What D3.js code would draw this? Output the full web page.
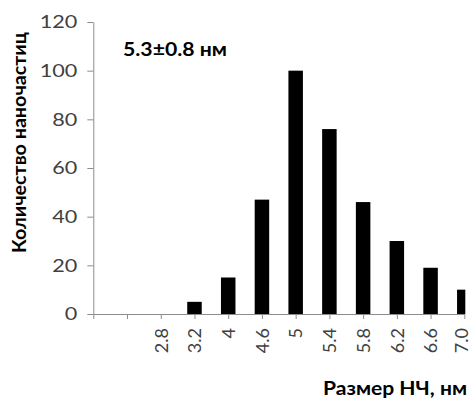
<!DOCTYPE html>
<html><head><meta charset="utf-8">
<script src="https://cdn.jsdelivr.net/npm/d3@7"></script>
<style>
html,body{margin:0;padding:0;background:#fff;}
svg{display:block;font-family:Lato,"Open Sans",sans-serif;}
</style></head>
<body><svg id="c" width="473" height="403"></svg>
<script>
const categories = ["", "", "2.8", "3.2", "4", "4.6", "5", "5.4", "5.8", "6.2", "6.6", "7.0"];
const counts = [0, 0, 0, 5, 15, 47, 100, 76, 46, 30, 19, 10];
const yTicks = [0, 20, 40, 60, 80, 100, 120];
const yTitle = "Количество наночастиц";
const xTitle = "Размер НЧ, нм";
const note = "5.3±0.8 нм";

const svg = d3.select("#c");
const L = 93.3, R = 464.3, T = 22, B = 314;
const x = d3.scalePoint().domain(d3.range(categories.length)).range([L, R]);
const y = d3.scaleLinear().domain([0, 120]).range([B, T]);
const bw = 14.5;

function stretch(sel, k) {
  sel.each(function() {
    const len = this.getComputedTextLength();
    d3.select(this).attr("textLength", len * k).attr("lengthAdjust", "spacingAndGlyphs");
  });
}

svg.append("defs").append("clipPath").attr("id","clip")
  .append("rect").attr("x", L).attr("y", 0).attr("width", R - L + 1).attr("height", B + 1);

svg.append("g").attr("clip-path","url(#clip)")
  .selectAll("rect").data(counts).join("rect")
  .attr("x", (d,i) => x(i) - bw/2)
  .attr("width", bw)
  .attr("y", d => y(d))
  .attr("height", d => B - y(d))
  .attr("fill", "#000");

const yAxis = svg.append("g").attr("transform", `translate(${L},0)`)
  .call(d3.axisLeft(y).tickValues(yTicks).tickSize(6).tickSizeOuter(0).tickPadding(10));
yAxis.select(".domain").attr("stroke", "#8c8c8c");
yAxis.selectAll(".tick line").attr("stroke", "#8c8c8c");
yAxis.selectAll(".tick text").attr("font-size", 18).attr("fill", "#404040").attr("font-family","Lato")
  .call(stretch, 1.2);

const xAxis = svg.append("g").attr("transform", `translate(0,${B})`)
  .call(d3.axisBottom(x).tickFormat(i => categories[i]).tickSize(5).tickSizeOuter(0));
xAxis.select(".domain").attr("stroke", "#8c8c8c");
xAxis.selectAll(".tick line").attr("stroke", "#8c8c8c");
xAxis.selectAll(".tick text")
  .attr("font-size", 18).attr("fill", "#404040").attr("font-family","Lato")
  .attr("transform", "rotate(-90)")
  .attr("text-anchor", "end")
  .attr("x", -14).attr("y", (d, i) => i === categories.length - 1 ? -3 : 0).attr("dy", "0.35em");

svg.append("text").attr("transform", "translate(26,142.5) rotate(-90)")
  .attr("text-anchor", "middle").attr("font-weight", "bold").attr("font-size", 18)
  .attr("fill", "#000").attr("textLength", 221).attr("lengthAdjust", "spacingAndGlyphs").text(yTitle);

svg.append("text").attr("x", 467).attr("y", 395)
  .attr("text-anchor", "end").attr("font-weight", "bold").attr("font-size", 18)
  .attr("fill", "#000").attr("textLength", 144).attr("lengthAdjust", "spacingAndGlyphs").text(xTitle);

svg.append("text").attr("x", 123).attr("y", 56)
  .attr("font-weight", "bold").attr("font-size", 18)
  .attr("fill", "#000").attr("textLength", 104).attr("lengthAdjust", "spacingAndGlyphs").text(note);
</script></body></html>
